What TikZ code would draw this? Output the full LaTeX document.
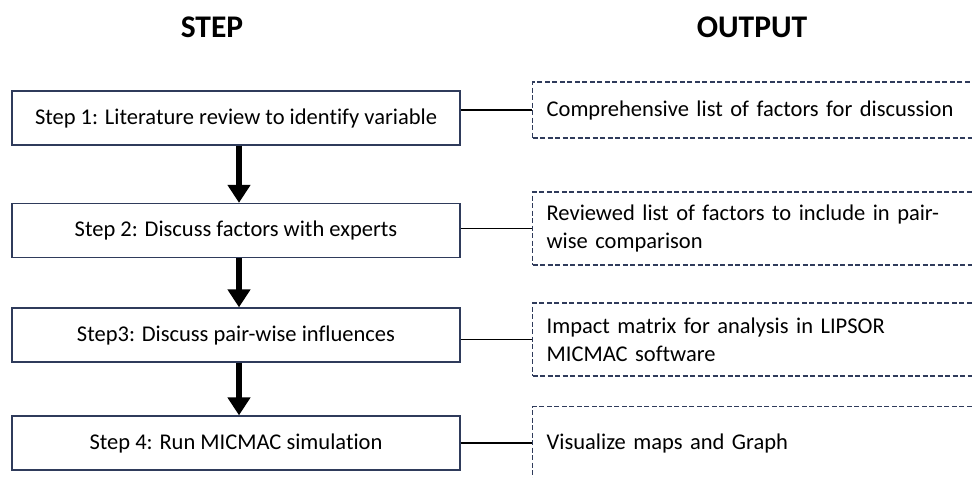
\documentclass[tikz,border=0pt]{standalone}
\usepackage{fontspec}
\setmainfont{Carlito}[Ligatures=NoCommon]
\usetikzlibrary{arrows.meta}
\definecolor{boxline}{HTML}{2F3B5B}

\begin{document}
\begin{tikzpicture}[x=1pt,y=1pt,
	stepbox/.style={draw=boxline,line width=1.3pt,minimum width=448pt,minimum height=54pt,font=\fontsize{22.5}{27}\selectfont},
	outbox/.style={draw=boxline,line width=1.3pt,dash pattern=on 5pt off 2.5pt,anchor=west,minimum width=468pt,minimum height=73pt,
		text width=440pt,inner xsep=14pt,align=left,font=\fontsize{22.5}{28}\selectfont},
	flow/.style={line width=5.5pt,-{Triangle[length=18pt,width=22pt]}},
	link/.style={line width=1.6pt}]
\useasboundingbox (0,0) rectangle (972,-477);
\clip (0,0) rectangle (972,-477);

\node[font=\fontsize{31.5}{36}\selectfont\bfseries] (head1) at (212,-27) {STEP};
\node[font=\fontsize{31.5}{36}\selectfont\bfseries] (head2) at (752,-27) {OUTPUT};

\node[stepbox] (s1) at (236,-118) {Step 1: Literature review to identify variable};
\node[stepbox] (s2) at (236,-230.5) {Step 2: Discuss factors with experts};
\node[stepbox] (s3) at (236,-335) {Step3: Discuss pair-wise influences};
\node[stepbox] (s4) at (236,-443) {Step 4: Run MICMAC simulation};

\node[outbox,minimum height=56pt] (o1) at (532,-110) {Comprehensive list of factors for discussion};
\node[outbox] (o2) at (532,-228.5) {Reviewed list of factors to include in pair-\\wise comparison};
\node[outbox] (o3) at (532,-339.5) {Impact matrix for analysis in LIPSOR\\MICMAC software};
\node[outbox] (o4) at (532,-443) {Visualize maps and Graph\\[8pt]};

\draw[flow] (s1.south -| 239,0) -- (s2.north -| 239,0);
\draw[flow] (s2.south -| 239,0) -- (s3.north -| 239,0);
\draw[flow] (s3.south -| 239,0) -- (s4.north -| 239,0);

\draw[link] (s1.east |- o1.west) -- (o1.west);
\draw[link] (s2.east |- o2.west) -- (o2.west);
\draw[link] (s3.east |- o3.west) -- (o3.west);
\draw[link] (s4.east |- o4.west) -- (o4.west);
\end{tikzpicture}
\end{document}
